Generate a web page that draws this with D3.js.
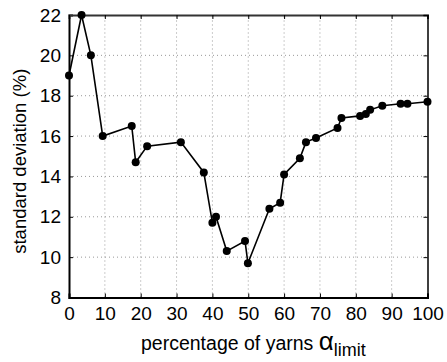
<!DOCTYPE html>
<html>
<head>
<meta charset="utf-8">
<script src="https://cdn.jsdelivr.net/npm/d3@7"></script>
<style>
  body { margin: 0; background: #fff; }
  svg { font-family: "Liberation Sans", Arial, sans-serif; }
</style>
</head>
<body>
<svg id="chart" width="447" height="362"></svg>
<script>
'use strict'

// percentage of yarns (alpha_limit)
const xValues = [0, 3.5, 6.1, 9.4, 17.5, 18.6, 21.8, 31.2, 37.6, 40.0, 41.0, 44.0, 49.1, 49.9,
    55.9, 58.9, 60.0, 64.4, 66.1, 68.9, 74.9, 76.0, 81.2, 82.8, 84.0, 87.4, 92.5, 94.4, 100]
// standard deviation (%)
const yValues = [19.0, 22.0, 20.0, 16.0, 16.5, 14.7, 15.5, 15.7, 14.2, 11.7, 12.0, 10.3, 10.8, 9.7,
    12.4, 12.7, 14.1, 14.9, 15.7, 15.9, 16.4, 16.9, 17.0, 17.1, 17.3, 17.5, 17.6, 17.6, 17.7]

const xTicks = [0, 10, 20, 30, 40, 50, 60, 70, 80, 90, 100]
const yTicks = [8, 10, 12, 14, 16, 18, 20, 22]

const margin = { left: 69, top: 15, right: 19.5, bottom: 64.5 }
const width = 447, height = 362

const svg = d3.select('#chart')

let x = d3.scaleLinear().domain([0, 100]).range([margin.left, width - margin.right])
let y = d3.scaleLinear().domain([8, 22]).range([height - margin.bottom, margin.top])

const points = xValues.map((v, i) => ({ x: v, y: yValues[i] }))

// grid
const grid = svg.append('g')
grid.selectAll('.vgrid')
    .data(xTicks.slice(1, -1))
    .enter().append('line')
    .attr('x1', d => x(d)).attr('x2', d => x(d))
    .attr('y1', y(8)).attr('y2', y(22))
    .attr('stroke', '#999').attr('stroke-width', 1)
    .attr('stroke-dasharray', '1,3')
grid.selectAll('.hgrid')
    .data(yTicks.slice(1, -1))
    .enter().append('line')
    .attr('x1', x(0)).attr('x2', x(100))
    .attr('y1', d => y(d)).attr('y2', d => y(d))
    .attr('stroke', '#999').attr('stroke-width', 1)
    .attr('stroke-dasharray', '1,3')

// axes
let xAxis = svg.append('g')
    .attr('transform', 'translate(0,' + y(8) + ')')
    .call(d3.axisBottom(x).tickValues(xTicks).tickSize(-4).tickPadding(9))
let yAxis = svg.append('g')
    .attr('transform', 'translate(' + x(0) + ',0)')
    .call(d3.axisLeft(y).tickValues(yTicks).tickSize(-4).tickPadding(8))
let xTop = svg.append('g')
    .attr('transform', 'translate(0,' + y(22) + ')')
    .call(d3.axisTop(x).tickValues(xTicks).tickSize(-4).tickFormat(''))
let yRight = svg.append('g')
    .attr('transform', 'translate(' + x(100) + ',0)')
    .call(d3.axisRight(y).tickValues(yTicks).tickSize(-4).tickFormat(''))

for (let ax of [xAxis, yAxis, xTop, yRight]) {
    ax.select('.domain').attr('stroke', '#000').attr('stroke-width', 2)
    ax.selectAll('.tick line').attr('stroke', '#000').attr('stroke-width', 1)
    ax.selectAll('.tick text').attr('fill', '#000').style('font-size', '19px')
}
xTop.select('.domain').attr('stroke', '#333')
yRight.select('.domain').attr('stroke-width', 1.5)

// line
svg.append('path')
    .datum(points)
    .attr('fill', 'none')
    .attr('stroke', '#000')
    .attr('stroke-width', 1.6)
    .attr('d', d3.line().x(d => x(d.x)).y(d => y(d.y)))

svg.selectAll('.dot')
    .data(points)
    .enter().append('circle')
    .attr('cx', d => x(d.x))
    .attr('cy', d => y(d.y))
    .attr('r', 4)
    .attr('fill', '#000')

// titles
svg.append('text')
    .attr('transform', 'translate(26,' + (y(15) + 5) + ') rotate(-90)')
    .attr('text-anchor', 'middle')
    .style('font-size', '18.5px')
    .text('standard deviation (%)')

let xTitle = svg.append('text')
    .attr('x', 141)
    .attr('y', 350)
    .style('font-size', '19.5px')
xTitle.append('tspan').text('percentage of yarns ')
xTitle.append('tspan').style('font-size', '26px').text('\u03b1')
xTitle.append('tspan').attr('dy', 6).style('font-size', '18px').text('limit')
</script>
</body>
</html>
